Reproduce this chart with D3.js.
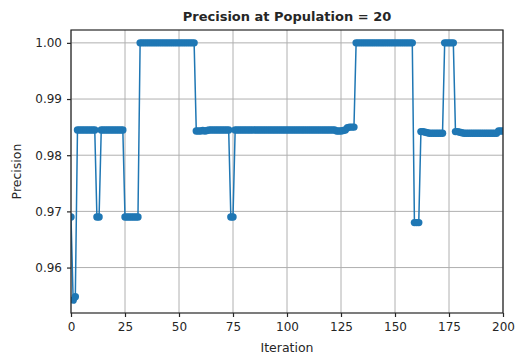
<!DOCTYPE html>
<html>
<head>
<meta charset="utf-8">
<script src="https://cdn.jsdelivr.net/npm/d3@7"></script>
<style>
    body { margin: 0; background: #fff; }
    #chart { width: 522px; height: 356px; }
    text { font-family: "DejaVu Sans", sans-serif; fill: #262626; }
</style>
</head>
<body>
<div id="chart"></div>
<script>
// precision per iteration (iteration = array index, 0..200)
const precision = [
    0.9690, 0.9542, 0.9548, 0.9845, 0.9845, 0.9845, 0.9845, 0.9845, 0.9845, 0.9845,
    0.9845, 0.9845, 0.9690, 0.9690, 0.9845, 0.9845, 0.9845, 0.9845, 0.9845, 0.9845,
    0.9845, 0.9845, 0.9845, 0.9845, 0.9845, 0.9690, 0.9690, 0.9690, 0.9690, 0.9690,
    0.9690, 0.9690, 1.0000, 1.0000, 1.0000, 1.0000, 1.0000, 1.0000, 1.0000, 1.0000,
    1.0000, 1.0000, 1.0000, 1.0000, 1.0000, 1.0000, 1.0000, 1.0000, 1.0000, 1.0000,
    1.0000, 1.0000, 1.0000, 1.0000, 1.0000, 1.0000, 1.0000, 1.0000, 0.9843, 0.9843,
    0.9843, 0.9844, 0.9843, 0.9844, 0.9845, 0.9845, 0.9845, 0.9845, 0.9845, 0.9845,
    0.9845, 0.9845, 0.9845, 0.9845, 0.9690, 0.9690, 0.9845, 0.9845, 0.9845, 0.9845,
    0.9845, 0.9845, 0.9845, 0.9845, 0.9845, 0.9845, 0.9845, 0.9845, 0.9845, 0.9845,
    0.9845, 0.9845, 0.9845, 0.9845, 0.9845, 0.9845, 0.9845, 0.9845, 0.9845, 0.9845,
    0.9845, 0.9845, 0.9845, 0.9845, 0.9845, 0.9845, 0.9845, 0.9845, 0.9845, 0.9845,
    0.9845, 0.9845, 0.9845, 0.9845, 0.9845, 0.9845, 0.9845, 0.9845, 0.9845, 0.9845,
    0.9845, 0.9845, 0.9845, 0.9843, 0.9843, 0.9843, 0.9844, 0.9845, 0.9849, 0.9850,
    0.9850, 0.9850, 1.0000, 1.0000, 1.0000, 1.0000, 1.0000, 1.0000, 1.0000, 1.0000,
    1.0000, 1.0000, 1.0000, 1.0000, 1.0000, 1.0000, 1.0000, 1.0000, 1.0000, 1.0000,
    1.0000, 1.0000, 1.0000, 1.0000, 1.0000, 1.0000, 1.0000, 1.0000, 1.0000, 0.9680,
    0.9680, 0.9680, 0.9842, 0.9842, 0.9841, 0.9840, 0.9839, 0.9839, 0.9839, 0.9839,
    0.9839, 0.9839, 0.9839, 1.0000, 1.0000, 1.0000, 1.0000, 1.0000, 0.9842, 0.9842,
    0.9841, 0.9840, 0.9839, 0.9839, 0.9839, 0.9839, 0.9839, 0.9839, 0.9839, 0.9839,
    0.9839, 0.9839, 0.9839, 0.9839, 0.9839, 0.9839, 0.9839, 0.9839, 0.9843, 0.9843,
    0.9843
];

const xTicks = [0, 25, 50, 75, 100, 125, 150, 175, 200];
const yTicks = [0.96, 0.97, 0.98, 0.99, 1.00];
const xDomain = [0, 200];

const chartTitle = "Precision at Population = 20";
const xLabel = "Iteration";
const yLabel = "Precision";

class LineChart {
    constructor(parentElement, data) {
        this.parentElement = parentElement;
        this.data = data;
        this.initVis();
    }

    initVis() {
        let vis = this;

        vis.margin = { top: 30, right: 19, bottom: 43, left: 71 };
        vis.width = 522 - vis.margin.left - vis.margin.right;
        vis.height = 356 - vis.margin.top - vis.margin.bottom;

        vis.svg = d3.select("#" + vis.parentElement)
            .append("svg")
            .attr("width", vis.width + vis.margin.left + vis.margin.right)
            .attr("height", vis.height + vis.margin.top + vis.margin.bottom)
            .append("g")
            .attr("transform", "translate(" + vis.margin.left + "," + vis.margin.top + ")");

        vis.x = d3.scaleLinear().domain(xDomain).range([0, vis.width]);

        // matplotlib style 5% auto margin on y
        const ext = d3.extent(vis.data);
        const pad = (ext[1] - ext[0]) * 0.05;
        vis.y = d3.scaleLinear().domain([ext[0] - pad, ext[1] + pad]).range([vis.height, 0]);

        // grid
        vis.svg.append("g").attr("class", "grid")
            .selectAll("line.vx")
            .data(xTicks)
            .enter().append("line")
            .attr("x1", d => vis.x(d)).attr("x2", d => vis.x(d))
            .attr("y1", 0).attr("y2", vis.height)
            .attr("stroke", "#b0b0b0").attr("stroke-width", 1);

        vis.svg.append("g").attr("class", "grid")
            .selectAll("line.hy")
            .data(yTicks)
            .enter().append("line")
            .attr("x1", 0).attr("x2", vis.width)
            .attr("y1", d => vis.y(d)).attr("y2", d => vis.y(d))
            .attr("stroke", "#b0b0b0").attr("stroke-width", 1);

        vis.svg.append("clipPath").attr("id", "plot-clip")
            .append("rect").attr("width", vis.width).attr("height", vis.height);

        vis.plot = vis.svg.append("g").attr("clip-path", "url(#plot-clip)");

        // axes
        vis.xAxis = d3.axisBottom(vis.x).tickValues(xTicks).tickSize(4).tickPadding(5).tickFormat(d3.format("d"));
        vis.yAxis = d3.axisLeft(vis.y).tickValues(yTicks).tickSize(4).tickPadding(5).tickFormat(d3.format(".2f"));

        vis.gx = vis.svg.append("g")
            .attr("transform", "translate(0," + vis.height + ")")
            .call(vis.xAxis);
        vis.gy = vis.svg.append("g").call(vis.yAxis);

        [vis.gx, vis.gy].forEach(g => {
            g.select(".domain").remove();
            g.selectAll(".tick line").attr("stroke", "#262626").attr("stroke-width", 1.2);
            g.selectAll(".tick text")
                .style("font-family", "DejaVu Sans")
                .style("font-size", "12px")
                .attr("fill", "#262626");
        });

        // frame
        vis.svg.append("rect")
            .attr("width", vis.width).attr("height", vis.height)
            .attr("fill", "none").attr("stroke", "#262626").attr("stroke-width", 1.2);

        vis.svg.append("text")
            .attr("x", vis.width / 2).attr("y", -9)
            .attr("text-anchor", "middle")
            .style("font-size", "13px")
            .style("font-weight", "bold")
            .text(chartTitle);

        vis.svg.append("text")
            .attr("x", vis.width / 2).attr("y", vis.height + 39)
            .attr("text-anchor", "middle")
            .style("font-size", "12.5px")
            .text(xLabel);

        vis.svg.append("text")
            .attr("transform", `translate(${-50}, ${vis.height / 2}) rotate(-90)`)
            .attr("text-anchor", "middle")
            .style("font-size", "12.5px")
            .text(yLabel);

        vis.wrangleData();
    }

    wrangleData() {
        let vis = this;
        vis.displayData = vis.data.map((v, i) => ({ iteration: i, precision: v }));
        vis.updateVis();
    }

    updateVis() {
        let vis = this;

        const line = d3.line()
            .x(d => vis.x(d.iteration))
            .y(d => vis.y(d.precision));

        vis.plot.append("path")
            .datum(vis.displayData)
            .attr("d", line)
            .attr("fill", "none")
            .attr("stroke", "#1f77b4")
            .attr("stroke-width", 1.5);

        vis.plot.selectAll(".dot")
            .data(vis.displayData)
            .enter().append("circle")
            .attr("class", "dot")
            .attr("cx", d => vis.x(d.iteration))
            .attr("cy", d => vis.y(d.precision))
            .attr("r", 3.7)
            .attr("fill", "#1f77b4");
    }
}

new LineChart("chart", precision);
</script>
</body>
</html>
